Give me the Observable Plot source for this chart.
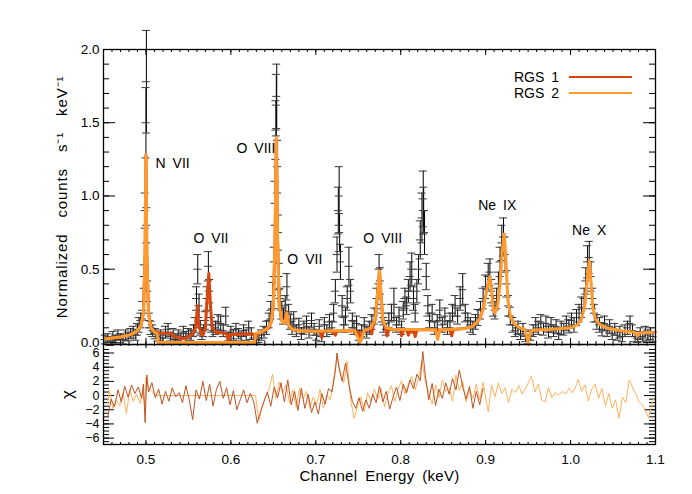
<!DOCTYPE html>
<html><head><meta charset="utf-8">
<script src="https://cdn.jsdelivr.net/npm/d3@7"></script>
<script src="https://cdn.jsdelivr.net/npm/@observablehq/plot@0.6"></script>
<style>
body{margin:0;background:#fff;font-family:"Liberation Sans",Arial,Helvetica,sans-serif;}
#chart{position:relative;width:692px;height:494px;overflow:hidden;}
#chart svg{display:block;}
.legend{position:absolute;left:514px;top:69px;font-size:14px;color:#000;}
.legend .row{display:flex;align-items:center;height:16px;}
.legend .lab{width:55px;white-space:pre;}
.legend .sw{display:inline-block;width:63px;height:2.5px;}
</style></head><body><div id="chart"></div>
<script>
// ---------- data ----------
const seriesNames = ["RGS 1", "RGS 2"];
const seriesColors = ["#d8460f", "#ff9a2e"];
const residColors = ["#bf5322", "#ffb25e"];

// observed spectrum: [keV, normalized counts, 1-sigma error]
const spectrumPoints = [
[0.452,0.02,0.03],[0.455,0.03,0.03],[0.458,0.01,0.03],[0.461,0.04,0.035],[0.464,0.02,0.03],[0.467,0.05,0.035],[0.470,0.03,0.03],[0.473,0.02,0.03],[0.476,0.05,0.035],[0.479,0.04,0.03],[0.482,0.06,0.035],[0.485,0.07,0.04],[0.488,0.05,0.035],[0.490,0.09,0.04],[0.492,0.12,0.05],[0.494,0.15,0.05],[0.496,0.22,0.06],[0.498,0.45,0.08],[0.499,0.9,0.12],[0.500,1.50,0.24],[0.5005,1.78,0.35],[0.501,0.8,0.12],[0.502,0.35,0.07],[0.504,0.15,0.05],[0.506,0.1,0.045],[0.508,0.08,0.04],[0.511,0.06,0.035],[0.514,0.04,0.03],
[0.517,0.05,0.035],[0.520,0.03,0.03],[0.523,0.07,0.04],[0.526,0.09,0.04],[0.529,0.04,0.03],[0.532,0.06,0.035],[0.535,0.02,0.03],[0.538,0.05,0.035],[0.541,0.03,0.03],[0.544,0.07,0.04],[0.547,0.04,0.035],[0.550,0.06,0.035],[0.553,0.05,0.035],[0.556,0.08,0.04],[0.558,0.12,0.05],[0.5595,0.3,0.08],[0.561,0.5,0.1],[0.5625,0.25,0.08],[0.564,0.1,0.05],[0.566,0.06,0.04],[0.568,0.08,0.04],[0.570,0.15,0.06],[0.572,0.3,0.08],[0.5735,0.52,0.1],[0.575,0.35,0.08],[0.577,0.12,0.05],[0.579,0.08,0.04],[0.582,0.1,0.045],[0.585,0.14,0.05],[0.588,0.13,0.05],[0.591,0.08,0.04],[0.594,0.18,0.06],[0.597,0.04,0.03],[0.600,0.07,0.04],[0.603,0.05,0.035],[0.606,0.09,0.04],[0.609,0.06,0.035],[0.612,0.04,0.03],[0.615,0.08,0.04],[0.618,0.05,0.035],[0.621,0.1,0.045],[0.624,0.06,0.04],[0.627,0.03,0.03],[0.630,0.02,0.03],[0.633,0.03,0.03],[0.636,0.05,0.035],[0.639,0.07,0.04],[0.642,0.1,0.045],[0.645,0.15,0.05],[0.647,0.22,0.06],[0.649,0.32,0.09],[0.651,0.55,0.1],[0.652,0.95,0.15],[0.653,1.45,0.2],[0.6535,1.62,0.21],[0.654,1.68,0.22],[0.655,1.2,0.18],[0.656,0.75,0.12],[0.657,0.45,0.09],[0.658,0.3,0.07],[0.660,0.22,0.06],[0.662,0.18,0.055],[0.664,0.25,0.07],[0.666,0.38,0.09],[0.668,0.2,0.06],[0.670,0.14,0.05],[0.672,0.1,0.045],[0.674,0.16,0.05],[0.677,0.08,0.04],[0.680,0.12,0.045],[0.683,0.06,0.04],[0.686,0.1,0.045],[0.689,0.13,0.05],[0.692,0.07,0.04],[0.695,0.15,0.05],[0.698,0.09,0.04],[0.701,0.05,0.035],[0.704,0.11,0.045],[0.707,0.04,0.035],[0.710,0.12,0.05],[0.713,0.08,0.04],[0.716,0.14,0.05],[0.719,0.1,0.045],[0.721,0.2,0.06],[0.723,0.35,0.08],[0.725,0.6,0.12],[0.7265,0.9,0.16],[0.7275,1.0,0.2],[0.728,0.75,0.13],[0.729,0.55,0.12],[0.731,0.25,0.07],[0.733,0.12,0.05],[0.735,0.18,0.06],[0.737,0.3,0.08],[0.739,0.52,0.13],[0.741,0.35,0.08],[0.743,0.15,0.05],[0.745,0.1,0.045],[0.748,0.13,0.05],[0.751,0.05,0.035],[0.754,0.08,0.04],[0.757,0.12,0.05],[0.760,0.07,0.04],[0.763,0.1,0.045],[0.766,0.14,0.05],[0.769,0.18,0.055],[0.772,0.3,0.07],[0.7745,0.5,0.1],[0.776,0.42,0.09],[0.778,0.2,0.06],[0.780,0.12,0.05],[0.783,0.09,0.04],[0.786,0.15,0.05],[0.789,0.2,0.06],[0.792,0.26,0.11],[0.795,0.12,0.05],[0.798,0.18,0.06],[0.801,0.1,0.045],[0.803,0.22,0.06],[0.805,0.3,0.07],[0.807,0.25,0.06],[0.809,0.35,0.08],[0.811,0.45,0.1],[0.813,0.5,0.11],[0.815,0.3,0.08],[0.817,0.2,0.06],[0.819,0.35,0.08],[0.821,0.5,0.1],[0.823,0.7,0.13],[0.825,0.85,0.17],[0.8265,0.98,0.19],[0.827,0.9,0.16],[0.828,0.75,0.15],[0.830,0.45,0.09],[0.832,0.25,0.07],[0.834,0.15,0.05],[0.837,0.2,0.06],[0.840,0.1,0.045],[0.843,0.14,0.05],[0.846,0.22,0.07],[0.849,0.12,0.05],[0.852,0.18,0.055],[0.855,0.1,0.045],[0.858,0.15,0.05],[0.861,0.2,0.06],[0.864,0.25,0.07],[0.867,0.18,0.055],[0.870,0.3,0.08],[0.873,0.36,0.11],[0.876,0.2,0.06],[0.879,0.15,0.05],[0.882,0.12,0.05],[0.885,0.1,0.045],[0.888,0.14,0.05],[0.891,0.17,0.055],[0.894,0.22,0.06],[0.897,0.3,0.07],[0.900,0.38,0.08],[0.903,0.45,0.09],[0.905,0.48,0.09],[0.907,0.35,0.08],[0.909,0.25,0.07],[0.911,0.22,0.06],[0.913,0.3,0.07],[0.915,0.4,0.08],[0.917,0.55,0.1],[0.919,0.68,0.12],[0.921,0.72,0.13],[0.923,0.6,0.12],[0.925,0.4,0.09],[0.927,0.25,0.07],[0.929,0.18,0.06],[0.932,0.12,0.05],[0.935,0.08,0.04],[0.938,0.1,0.045],[0.941,0.06,0.04],[0.944,0.09,0.04],[0.947,0.04,0.035],[0.950,0.02,0.03],[0.953,0.05,0.035],[0.956,0.08,0.04],[0.959,0.12,0.05],[0.962,0.1,0.045],[0.965,0.14,0.05],[0.968,0.09,0.04],[0.971,0.13,0.05],[0.974,0.07,0.04],[0.977,0.12,0.05],[0.980,0.08,0.04],[0.983,0.11,0.045],[0.986,0.06,0.04],[0.989,0.1,0.045],[0.992,0.09,0.04],[0.995,0.13,0.05],[0.998,0.11,0.045],[1.001,0.15,0.05],[1.004,0.12,0.05],[1.007,0.17,0.055],[1.010,0.2,0.06],[1.013,0.24,0.07],[1.016,0.3,0.07],[1.018,0.42,0.09],[1.020,0.55,0.11],[1.022,0.58,0.11],[1.024,0.45,0.1],[1.026,0.3,0.07],[1.028,0.2,0.06],[1.031,0.14,0.05],[1.034,0.12,0.05],[1.037,0.09,0.045],[1.040,0.13,0.05],[1.043,0.08,0.04],[1.046,0.11,0.045],[1.049,0.06,0.04],[1.052,0.09,0.04],[1.055,0.05,0.035],[1.058,0.07,0.04],[1.061,0.04,0.035],[1.064,0.08,0.04],[1.067,0.1,0.045],[1.070,0.13,0.05],[1.073,0.08,0.04],[1.076,0.04,0.035],[1.079,0.03,0.03],[1.082,0.06,0.04],[1.085,0.04,0.035],[1.088,0.07,0.04],[1.091,0.05,0.035],[1.094,0.06,0.04],[1.097,0.04,0.035]
];

// folded models: [keV, normalized counts]
const rgs1Model = [
[0.452,0.025],[0.46,0.03],[0.47,0.037],[0.48,0.05],[0.488,0.07],[0.494,0.11],[0.497,0.2],[0.499,0.6],[0.5,1.28],[0.501,0.6],[0.503,0.2],[0.506,0.1],[0.51,0.075],[0.515,0.065],[0.525,0.062],[0.53,0.06],[0.533,0.04],[0.537,0.035],[0.54,0.03],[0.545,0.025],[0.55,0.04],[0.553,0.05],[0.556,0.06],[0.559,0.12],[0.5605,0.25],[0.562,0.12],[0.565,0.06],[0.567,0.05],[0.57,0.1],[0.572,0.3],[0.574,0.47],[0.576,0.25],[0.578,0.1],[0.582,0.07],[0.59,0.065],[0.595,0.06],[0.597,0.005],[0.599,0.055],[0.605,0.055],[0.615,0.058],[0.625,0.06],[0.63,0.04],[0.633,0.065],[0.64,0.08],[0.645,0.1],[0.648,0.15],[0.65,0.25],[0.652,0.7],[0.6535,1.39],[0.655,0.7],[0.657,0.25],[0.66,0.15],[0.663,0.13],[0.666,0.21],[0.668,0.12],[0.672,0.09],[0.68,0.08],[0.69,0.078],[0.7,0.077],[0.705,0.075],[0.707,0.035],[0.709,0.075],[0.72,0.078],[0.723,0.05],[0.725,0.078],[0.745,0.08],[0.75,0.07],[0.752,0.02],[0.755,0.07],[0.765,0.1],[0.766,0.06],[0.767,0.1],[0.77,0.16],[0.773,0.35],[0.775,0.49],[0.777,0.3],[0.779,0.15],[0.782,0.1],[0.784,0.045],[0.786,0.09],[0.795,0.088],[0.8,0.085],[0.801,0.045],[0.803,0.085],[0.807,0.085],[0.809,0.05],[0.811,0.08],[0.813,0.07],[0.815,0.085],[0.817,0.04],[0.819,0.085],[0.83,0.088],[0.842,0.085],[0.8435,0.04],[0.845,0.085],[0.858,0.088],[0.86,0.045],[0.862,0.088],[0.875,0.095],[0.885,0.11],[0.893,0.16],[0.898,0.25]
];
const rgs2Model = [
[0.452,0.025],[0.46,0.03],[0.47,0.037],[0.48,0.05],[0.488,0.07],[0.494,0.11],[0.497,0.2],[0.499,0.6],[0.5,1.28],[0.501,0.6],[0.503,0.2],[0.506,0.1],[0.51,0.07],[0.513,0.06],[0.514,0.0],[0.628,0.0],[0.629,0.06],[0.635,0.07],[0.642,0.09],[0.647,0.13],[0.65,0.25],[0.652,0.7],[0.6535,1.40],[0.655,0.7],[0.657,0.25],[0.66,0.15],[0.663,0.13],[0.666,0.2],[0.668,0.12],[0.672,0.09],[0.68,0.08],[0.69,0.078],[0.70,0.077],[0.72,0.08],[0.74,0.082],[0.746,0.08],[0.752,0.0],[0.757,0.08],[0.765,0.1],[0.77,0.16],[0.773,0.35],[0.775,0.49],[0.777,0.3],[0.779,0.15],[0.783,0.1],[0.79,0.09],[0.80,0.088],[0.82,0.088],[0.841,0.086],[0.8435,0.02],[0.846,0.086],[0.86,0.09],[0.875,0.095],[0.885,0.11],[0.893,0.16],[0.898,0.25],[0.902,0.38],[0.905,0.45],[0.907,0.35],[0.909,0.22],[0.911,0.2],[0.914,0.25],[0.917,0.4],[0.92,0.65],[0.922,0.74],[0.924,0.55],[0.926,0.3],[0.929,0.18],[0.933,0.13],[0.94,0.1],[0.946,0.09],[0.95,0.0],[0.953,0.08],[0.96,0.085],[0.975,0.088],[0.99,0.095],[1.0,0.1],[1.008,0.12],[1.013,0.16],[1.017,0.26],[1.02,0.45],[1.022,0.56],[1.024,0.42],[1.026,0.25],[1.029,0.16],[1.035,0.12],[1.045,0.095],[1.06,0.08],[1.075,0.07],[1.077,0.06],[1.0786,0.045],[1.081,0.065],[1.09,0.068],[1.1,0.07]
];

// residuals (chi): [keV, chi]
const rgs1Resid = [
[0.455,-3.0],[0.459,-0.5],[0.463,-1.6],[0.467,0.8],[0.471,-0.9],[0.475,1.3],[0.479,-0.2],[0.483,1.5],[0.487,0.3],[0.491,1.2],[0.495,-0.4],[0.497,1.6],[0.499,-3.8],[0.501,2.9],[0.503,0.5],[0.507,1.8],[0.511,-0.3],[0.515,0.9],[0.519,-1.2],[0.523,0.6],[0.527,-0.8],[0.531,1.1],[0.535,-0.2],[0.539,0.4],[0.543,-1.0],[0.547,1.4],[0.551,-0.6],[0.555,-3.4],[0.559,0.8],[0.563,-0.5],[0.567,2.0],[0.571,-0.7],[0.575,1.6],[0.579,-1.5],[0.583,0.9],[0.587,2.0],[0.591,-0.4],[0.595,1.1],[0.599,-1.3],[0.603,0.7],[0.607,-2.0],[0.611,-0.6],[0.615,0.8],[0.619,-1.0],[0.623,0.3],[0.627,-0.9],[0.631,-3.9],[0.635,-2.2],[0.639,-0.8],[0.643,0.5],[0.647,-1.5],[0.651,1.2],[0.655,-0.3],[0.659,1.8],[0.663,-0.9],[0.667,2.2],[0.671,-1.3],[0.675,0.6],[0.679,-2.1],[0.683,1.0],[0.687,-1.8],[0.691,0.2],[0.695,-2.4],[0.699,-0.9],[0.703,-2.6],[0.707,0.3],[0.711,-1.2],[0.715,1.0],[0.719,0.5],[0.723,3.4],[0.725,6.0],[0.727,4.1],[0.731,2.0],[0.735,4.6],[0.739,1.5],[0.743,-0.8],[0.747,-1.8],[0.751,-0.3],[0.755,-2.2],[0.759,-0.6],[0.763,-1.8],[0.767,0.2],[0.771,-1.0],[0.775,1.3],[0.779,-0.9],[0.783,0.6],[0.787,-1.9],[0.791,-0.2],[0.795,1.2],[0.799,-0.7],[0.803,1.6],[0.807,0.4],[0.811,2.2],[0.815,1.0],[0.819,3.0],[0.823,2.1],[0.826,6.2],[0.829,2.8],[0.833,-0.6],[0.837,1.7],[0.841,-1.4],[0.845,0.9],[0.849,-0.4],[0.853,1.8],[0.857,0.2],[0.861,2.4],[0.865,0.8],[0.869,3.6],[0.873,1.2],[0.877,-0.5],[0.881,1.3],[0.885,-1.8],[0.889,0.6],[0.893,-1.3],[0.897,1.0]
];
const rgs2Resid = [
[0.455,-1.0],[0.457,0.8],[0.461,-1.8],[0.465,-0.6],[0.469,-1.5],[0.473,0.4],[0.477,-2.6],[0.481,0.9],[0.485,-0.8],[0.489,0.2],[0.493,-1.1],[0.496,0.6],[0.499,-1.5],[0.500,2.6],[0.502,1.4],[0.505,0.9],[0.509,0.3],[0.513,0.0],[0.629,0.0],[0.633,-3.5],[0.637,-1.6],[0.641,-0.2],[0.645,0.9],[0.649,3.0],[0.653,-0.4],[0.657,1.9],[0.661,0.4],[0.665,1.5],[0.669,-1.0],[0.673,0.8],[0.677,-1.6],[0.681,1.1],[0.685,-0.5],[0.689,0.6],[0.693,-1.7],[0.697,-0.2],[0.701,-1.3],[0.705,0.9],[0.709,-1.8],[0.713,0.1],[0.717,-0.6],[0.721,2.4],[0.725,5.6],[0.729,3.2],[0.733,1.8],[0.737,4.9],[0.741,-0.6],[0.745,-3.2],[0.749,-1.6],[0.753,-0.2],[0.757,-2.3],[0.761,0.4],[0.765,-0.9],[0.769,0.9],[0.773,-0.5],[0.777,1.0],[0.781,-1.6],[0.785,0.3],[0.789,1.4],[0.793,-0.8],[0.797,0.9],[0.801,2.1],[0.805,0.2],[0.809,1.6],[0.813,2.7],[0.817,0.8],[0.821,2.5],[0.825,4.9],[0.829,1.9],[0.833,0.4],[0.837,-1.2],[0.841,1.5],[0.845,-0.3],[0.849,2.2],[0.853,0.6],[0.857,1.0],[0.861,-0.8],[0.865,2.9],[0.869,0.7],[0.873,2.0],[0.877,-0.9],[0.881,0.8],[0.885,-0.4],[0.889,1.6],[0.893,-0.6],[0.897,1.9],[0.901,-1.0],[0.903,-2.3],[0.907,1.5],[0.911,-0.2],[0.915,1.8],[0.919,0.3],[0.923,1.1],[0.927,-1.0],[0.931,0.9],[0.935,0.4],[0.939,1.4],[0.943,0.2],[0.947,1.0],[0.951,2.0],[0.954,2.7],[0.958,0.5],[0.962,1.6],[0.966,-0.6],[0.970,-0.9],[0.974,1.1],[0.978,-0.3],[0.982,0.4],[0.986,0.0],[0.990,0.6],[0.994,0.2],[0.998,1.0],[1.002,0.4],[1.006,1.2],[1.009,2.3],[1.013,0.6],[1.017,1.5],[1.021,-0.8],[1.025,0.9],[1.029,1.6],[1.033,-0.4],[1.037,1.0],[1.041,-1.5],[1.045,0.3],[1.049,-1.8],[1.053,-0.6],[1.057,-3.2],[1.061,-0.2],[1.065,-1.0],[1.069,2.2],[1.073,1.2],[1.077,0.2],[1.081,-0.9],[1.085,-1.4],[1.089,-2.4],[1.092,-3.2],[1.095,-1.4],[1.098,-0.5]
];

// line identifications: [label, keV, counts] (label anchor = left-middle)
const lineLabels = [
["N\u2002VII",0.5112,1.22],["O\u2002VII",0.5559,0.71],["O\u2002VIII",0.6065,1.324],["O\u2002VII",0.6665,0.566],
["O\u2002VIII",0.7559,0.71],["Ne\u2002IX",0.8912,0.935],["Ne\u2002X",1.0018,0.764]
];

const xTickValues = [0.5,0.6,0.7,0.8,0.9,1.0,1.1];
const yTickValues = [0.0,0.5,1.0,1.5,2.0];
const chiTickValues = [-6,-4,-2,0,2,4,6];
const yTitle = "Normalized\u2003counts\u2003s\u207B\u00B9\u2003keV\u207B\u00B9";
const chiTitle = "\u03C7";
const xTitle = "Channel\u2002Energy\u2002(keV)";

// ---------- layout ----------
const W = 692, ML = 103, MR = 37;
const xDomain = [0.45, 1.1];
const upperH = 344, upperMT = 49;
const lowerH = 150, lowerMB = 50;
const font = '"Liberation Sans", Arial, Helvetica, sans-serif';
const fw = W - ML - MR;

function frameTicks(values, dim, len, fh) {
  if (dim === "x") return [
    Plot.tickX(values, {x: d => d, insetBottom: fh - len, stroke: "black", strokeWidth: 1}),
    Plot.tickX(values, {x: d => d, insetTop: fh - len, stroke: "black", strokeWidth: 1})
  ];
  return [
    Plot.tickY(values, {y: d => d, insetRight: fw - len, stroke: "black", strokeWidth: 1}),
    Plot.tickY(values, {y: d => d, insetLeft: fw - len, stroke: "black", strokeWidth: 1})
  ];
}

const xMinor = d3.range(45, 111).map(v => v / 100);
const yMinor = d3.range(0, 21).map(v => v / 10);
const chiMinor = d3.range(-13, 14).map(v => v / 2);

const points = spectrumPoints.map(([E, y, err]) => ({E, y, err}));
const capHalf = 4 * (xDomain[1] - xDomain[0]) / fw;

const fhU = upperH - upperMT;
const upper = Plot.plot({
  width: W, height: upperH,
  marginLeft: ML, marginRight: MR, marginTop: upperMT, marginBottom: 0,
  style: {fontFamily: font, fontSize: "14px", background: "white", color: "black", overflow: "visible"},
  x: {domain: xDomain, axis: null},
  y: {domain: [-0.014, 2.0]},
  marks: [
    ...frameTicks(xMinor, "x", 3, fhU),
    ...frameTicks(xTickValues, "x", 6, fhU),
    ...frameTicks(yMinor, "y", 6, fhU),
    ...frameTicks(yTickValues, "y", 12, fhU),
    Plot.ruleX(points, {x: "E", y1: d => d.y - d.err, y2: d => d.y + d.err, stroke: "black", strokeWidth: 1}),
    Plot.ruleY(points, {y: d => d.y + d.err, x1: d => d.E - capHalf, x2: d => d.E + capHalf, stroke: "#3a3a3a", strokeWidth: 1}),
    Plot.ruleY(points, {y: d => d.y - d.err, x1: d => d.E - capHalf, x2: d => d.E + capHalf, stroke: "#3a3a3a", strokeWidth: 1}),
    Plot.ruleY(points, {y: "y", x1: d => d.E - capHalf, x2: d => d.E + capHalf, stroke: "#3a3a3a", strokeWidth: 1}),
    Plot.line(rgs1Model, {x: d => d[0], y: d => d[1], stroke: seriesColors[0], strokeWidth: 3, strokeLinejoin: "round"}),
    Plot.line(rgs2Model, {x: d => d[0], y: d => d[1], stroke: seriesColors[1], strokeWidth: 3, strokeLinejoin: "round"}),
    Plot.text(lineLabels, {x: d => d[1], y: d => d[2], text: d => d[0], textAnchor: "start", fontSize: 14, fill: "black"}),
    Plot.axisY({ticks: yTickValues, tickSize: 0, tickPadding: 4, tickFormat: d3.format(".1f"), label: null, fontSize: 13.5}),
    Plot.text([yTitle], {text: d => d, frameAnchor: "left", textAnchor: "middle", dx: -41, rotate: -90, fontSize: 15, fill: "black"}),
    Plot.frame({stroke: "black", strokeWidth: 1.3})
  ]
});

const fhL = lowerH - lowerMB;
const lower = Plot.plot({
  width: W, height: lowerH,
  marginLeft: ML, marginRight: MR, marginTop: 0, marginBottom: lowerMB,
  style: {fontFamily: font, fontSize: "14px", background: "white", color: "black", overflow: "visible"},
  x: {domain: xDomain},
  y: {domain: [-6.9, 7.2]},
  marks: [
    ...frameTicks(xMinor, "x", 2, fhL),
    ...frameTicks(xTickValues, "x", 4, fhL),
    ...frameTicks(chiMinor, "y", 6, fhL),
    ...frameTicks(chiTickValues, "y", 11, fhL),
    Plot.line(rgs2Resid, {x: d => d[0], y: d => d[1], stroke: residColors[1], strokeWidth: 1}),
    Plot.line(rgs1Resid, {x: d => d[0], y: d => d[1], stroke: residColors[0], strokeWidth: 1}),
    Plot.axisY({ticks: chiTickValues, tickSize: 0, tickPadding: 4, tickFormat: d3.format("d"), label: null, fontSize: 12.5}),
    Plot.axisX({ticks: xTickValues, tickSize: 0, tickPadding: 10, tickFormat: d3.format(".1f"), label: null, fontSize: 13.5}),
    Plot.text([chiTitle], {text: d => d, frameAnchor: "left", textAnchor: "middle", dx: -36, rotate: -90, fontSize: 17, fill: "black"}),
    Plot.text([xTitle], {text: d => d, frameAnchor: "bottom", textAnchor: "middle", dy: 36, fontSize: 15, fill: "black"}),
    Plot.frame({stroke: "black", strokeWidth: 1.3})
  ]
});

const chart = document.getElementById("chart");
chart.appendChild(upper);
chart.appendChild(lower);

// wider IDL-like letter spacing on the axis titles
[upper, lower].forEach(svg => svg.querySelectorAll("text").forEach(t => {
  if (t.textContent === yTitle) t.style.letterSpacing = "0.9px";
  if (t.textContent === xTitle) t.style.letterSpacing = "0.3px";
}));

// legend
const legend = document.createElement("div");
legend.className = "legend";
seriesNames.forEach((name, i) => {
  const row = document.createElement("div");
  row.className = "row";
  const lab = document.createElement("span");
  lab.className = "lab";
  lab.textContent = name.replace(" ", "\u2002");
  const sw = document.createElement("span");
  sw.className = "sw";
  sw.style.background = seriesColors[i];
  row.appendChild(lab); row.appendChild(sw);
  legend.appendChild(row);
});
chart.appendChild(legend);
</script></body></html>
